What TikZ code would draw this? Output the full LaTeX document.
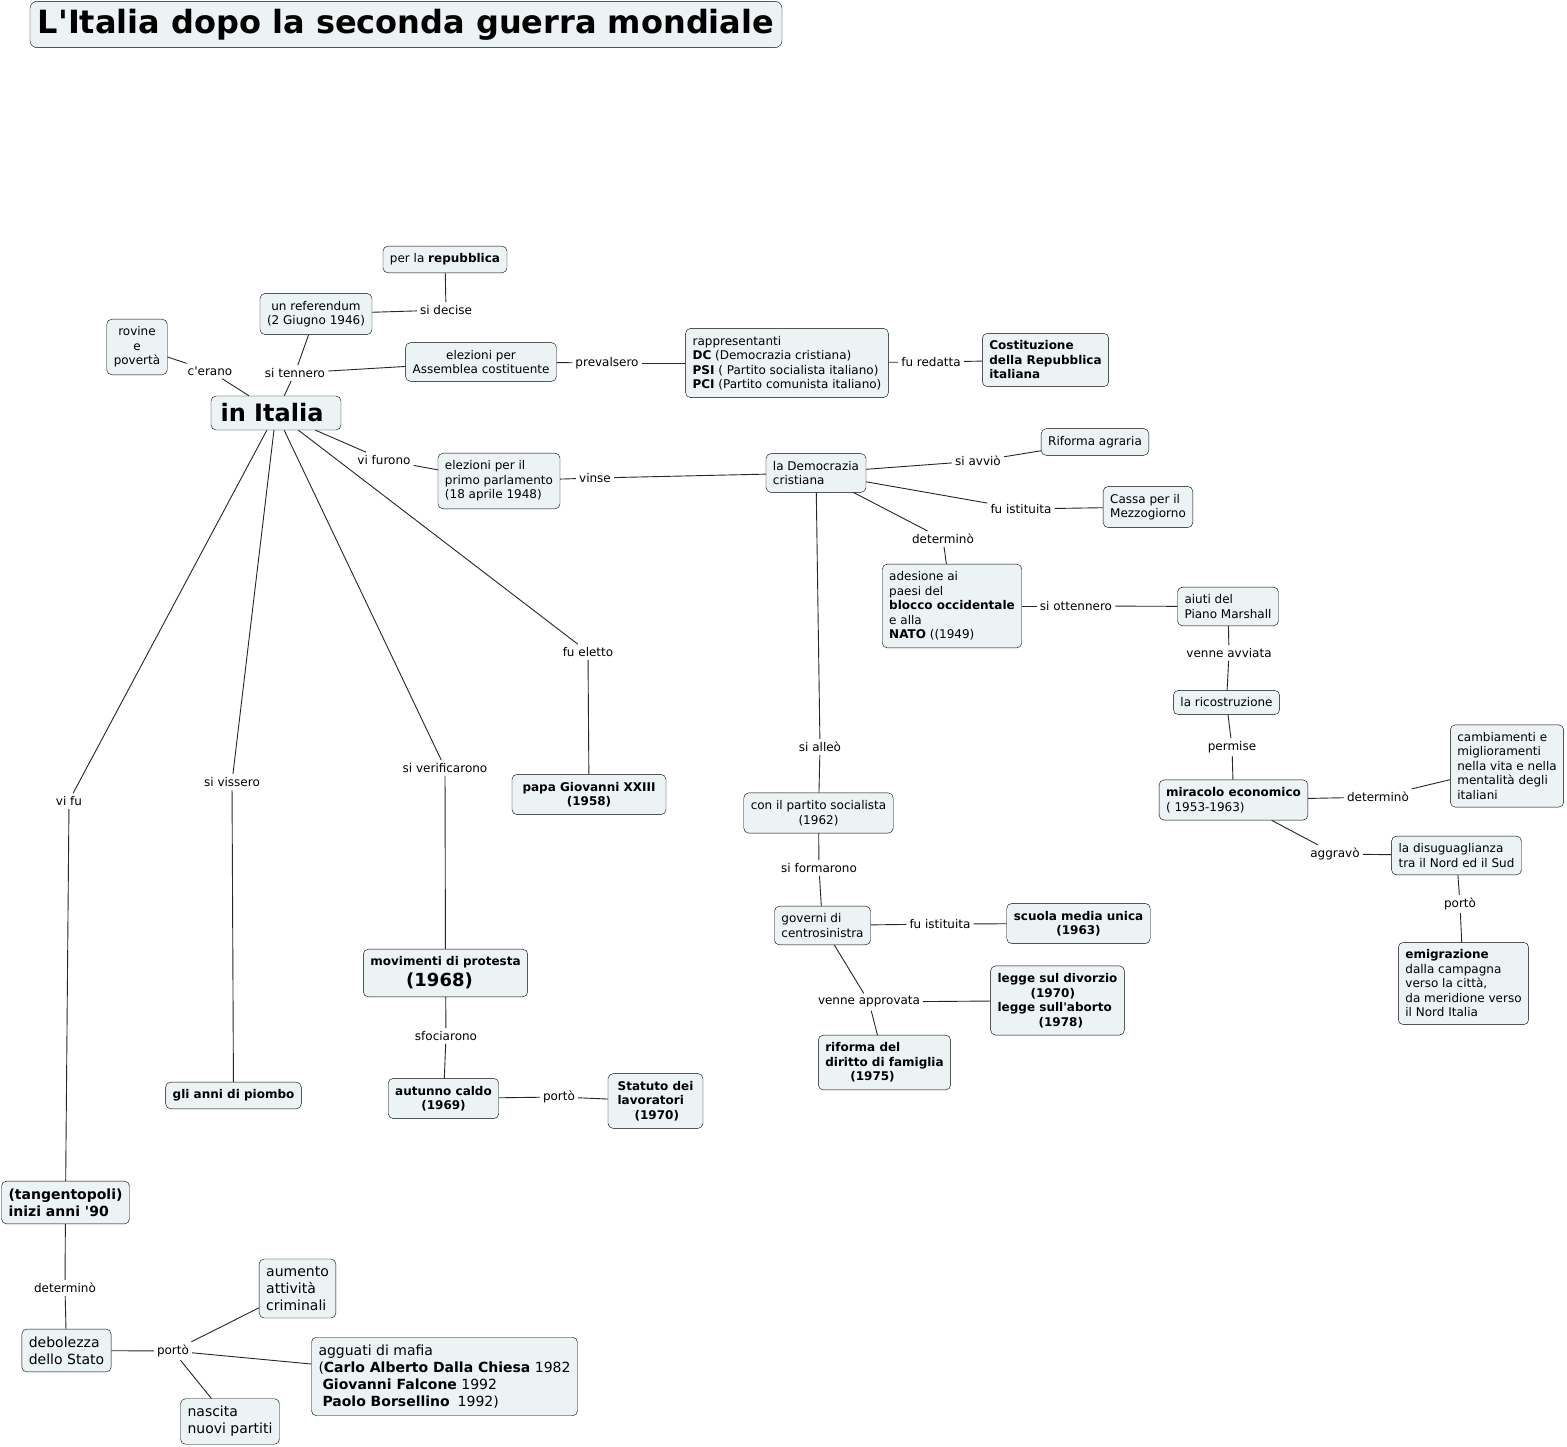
\documentclass[tikz,border=0pt]{standalone}
\usepackage{fontspec}
\setmainfont{DejaVu Sans}[Ligatures=TeXOff]
\usepackage{xcolor}
\usepackage{tikz}

\definecolor{cmapfill}{RGB}{236,243,245}

\begin{document}
\begin{tikzpicture}[
    x=1pt, y=-1pt,
    concept/.style={
        rectangle,
        rounded corners=5pt,
        draw,
        fill=cmapfill,
        align=left,
        inner xsep=7pt,
        inner ysep=7.5pt,
        font=\fontsize{12}{14.5}\selectfont
    },
    boldconcept/.style={concept, font=\fontsize{12}{14.5}\selectfont\bfseries},
    bigconcept/.style={concept, font=\fontsize{14}{17}\selectfont},
    titlebox/.style={concept, rounded corners=7pt, minimum width=752pt, minimum height=45pt,
        font=\fontsize{32}{36}\selectfont\bfseries},
    linkword/.style={inner sep=3pt, font=\fontsize{12}{14.5}\selectfont},
    link/.style={draw=black!85, line width=0.9pt}
]

\useasboundingbox[fill=white] (0,0) rectangle (1567,1447);

\node[titlebox] (title) at (406,24.5) {L'Italia dopo la seconda guerra mondiale};

% concepts
\node[concept, font=\fontsize{24}{28}\selectfont\bfseries, minimum width=130pt, minimum height=34pt] (italia) at (276,413) {in Italia\hspace*{8pt}};
\node[concept, align=center] (repubblica) at (445,259.5) {per la \textbf{repubblica}};
\node[concept, align=center] (referendum) at (316,314) {un referendum\\(2 Giugno 1946)};
\node[concept, align=center] (rovine) at (137,347) {rovine\\e\\povertà};
\node[concept, align=center] (assemblea) at (481,362) {elezioni per\\Assemblea costituente};
\node[concept] (rappresentanti) at (787,363) {rappresentanti\\\textbf{DC} (Democrazia cristiana)\\\textbf{PSI} ( Partito socialista italiano)\\\textbf{PCI} (Partito comunista italiano)};
\node[boldconcept] (costituzione) at (1045.5,360) {Costituzione\\della Repubblica\\italiana};
\node[concept] (parlamento) at (499,481) {elezioni per il\\primo parlamento\\(18 aprile 1948)};
\node[concept] (dc) at (816,473) {la Democrazia\\cristiana};
\node[concept] (agraria) at (1095,442) {Riforma agraria};
\node[concept] (cassa) at (1148,507) {Cassa per il\\Mezzogiorno};
\node[concept] (adesione) at (952,606) {adesione ai\\paesi del\\\textbf{blocco occidentale}\\e alla\\\textbf{NATO} ((1949)};
\node[concept] (marshall) at (1228,606.5) {aiuti del\\Piano Marshall};
\node[concept] (ricostruzione) at (1226.5,702.5) {la ricostruzione};
\node[concept] (cambiamenti) at (1507,766) {cambiamenti e\\miglioramenti\\nella vita e nella\\mentalità degli\\italiani};
\node[concept] (miracolo) at (1233.5,800) {\textbf{miracolo economico}\\( 1953-1963)};
\node[concept] (disuguaglianza) at (1456.5,855.5) {la disuguaglianza\\tra il Nord ed il Sud};
\node[concept] (emigrazione) at (1463.5,983.5) {\textbf{emigrazione}\\dalla campagna\\verso la città,\\da meridione verso\\il Nord Italia};
\node[concept, align=center] (socialista) at (818.5,813) {con il partito socialista\\(1962)};
\node[concept] (governi) at (822.5,925.5) {governi di\\centrosinistra};
\node[boldconcept, align=center] (scuola) at (1078.5,923.5) {scuola media unica\\(1963)};
\node[boldconcept] (divorzio) at (1057.5,1000.5) {legge sul divorzio\\\hspace*{33pt}(1970)\\legge sull'aborto\\\hspace*{41pt}(1978)};
\node[boldconcept] (famiglia) at (884.5,1062.5) {riforma del\\diritto di famiglia\\\hspace*{25pt}(1975)};
\node[boldconcept, align=center, minimum width=154pt] (papa) at (589,794.5) {papa Giovanni XXIII\\(1958)};
\node[boldconcept, align=center] (movimenti) at (445.5,973) {movimenti di protesta\\[4pt]{\fontsize{18}{22}\selectfont(1968)\hspace*{12pt}}};
\node[boldconcept, align=center] (autunno) at (443.5,1098.5) {autunno caldo\\(1969)};
\node[boldconcept, minimum width=95pt] (statuto) at (655.5,1101) {Statuto dei\\lavoratori\\\hspace*{17pt}(1970)};
\node[boldconcept] (piombo) at (233.5,1095.5) {gli anni di piombo};
\node[bigconcept, font=\fontsize{14}{17}\selectfont\bfseries] (tangentopoli) at (65.5,1202.5) {(tangentopoli)\\inizi anni '90};
\node[bigconcept] (debolezza) at (66.5,1350.5) {debolezza\\dello Stato};
\node[bigconcept] (criminali) at (297.5,1288.5) {aumento\\attività\\criminali};
\node[bigconcept] (mafia) at (444.5,1376.5) {agguati di mafia\\(\textbf{Carlo Alberto Dalla Chiesa} 1982\\\hspace*{4pt}\textbf{Giovanni Falcone} 1992\\\hspace*{4pt}\textbf{Paolo Borsellino}\hspace*{8pt}1992)};
\node[bigconcept] (partiti) at (230,1421.5) {nascita\\nuovi partiti};

% linking words
\node[linkword] (decise) at (446,310) {si decise};
\node[linkword] (erano) at (210,371) {c'erano};
\node[linkword] (tennero) at (295,373) {si tennero};
\node[linkword] (prevalsero) at (607,363) {prevalsero};
\node[linkword] (redatta) at (931,362) {fu redatta};
\node[linkword] (furono) at (384,460) {vi furono};
\node[linkword] (vinse) at (595,478) {vinse};
\node[linkword] (avvio) at (978,461) {si avviò};
\node[linkword] (istituita) at (1021,509) {fu istituita};
\node[linkword] (determino) at (943,539) {determinò};
\node[linkword] (ottennero) at (1076,606) {si ottennero};
\node[linkword] (avviata) at (1229,653) {venne avviata};
\node[linkword] (permise) at (1232,747) {permise};
\node[linkword] (determinob) at (1378,797) {determinò};
\node[linkword] (aggravo) at (1335,854) {aggravò};
\node[linkword] (porto) at (1460,904) {portò};
\node[linkword] (eletto) at (588,652) {fu eletto};
\node[linkword] (verificarono) at (445,768) {si verificarono};
\node[linkword] (vissero) at (232,782) {si vissero};
\node[linkword] (vifu) at (69,801) {vi fu};
\node[linkword] (alleo) at (820,747) {si alleò};
\node[linkword] (formarono) at (819,868) {si formarono};
\node[linkword] (istituitab) at (940,924) {fu istituita};
\node[linkword] (approvata) at (869,1002) {venne approvata};
\node[linkword] (sfociarono) at (446,1036) {sfociarono};
\node[linkword] (portob) at (559,1097) {portò};
\node[linkword] (determinoc) at (65,1288) {determinò};
\node[linkword] (portoc) at (173,1351) {portò};

% connections
\draw[link] (repubblica) -- (decise);
\draw[link] (decise) -- (referendum);
\draw[link] (referendum) -- (tennero);
\draw[link] (tennero) -- (italia);
\draw[link] (tennero) -- (assemblea);
\draw[link] (italia) -- (erano);
\draw[link] (erano) -- (rovine);
\draw[link] (assemblea) -- (prevalsero);
\draw[link] (prevalsero) -- (rappresentanti);
\draw[link] (rappresentanti) -- (redatta);
\draw[link] (redatta) -- (costituzione);
\draw[link] (italia) -- (furono);
\draw[link] (furono) -- (parlamento);
\draw[link] (parlamento) -- (vinse);
\draw[link] (vinse) -- (dc);
\draw[link] (dc) -- (avvio);
\draw[link] (avvio) -- (agraria);
\draw[link] (dc) -- (istituita);
\draw[link] (istituita) -- (cassa);
\draw[link] (dc) -- (determino);
\draw[link] (determino) -- (adesione);
\draw[link] (adesione) -- (ottennero);
\draw[link] (ottennero) -- (marshall);
\draw[link] (marshall) -- (avviata);
\draw[link] (avviata) -- (ricostruzione);
\draw[link] (ricostruzione) -- (permise);
\draw[link] (permise) -- (miracolo);
\draw[link] (miracolo) -- (determinob);
\draw[link] (determinob) -- (cambiamenti);
\draw[link] (miracolo) -- (aggravo);
\draw[link] (aggravo) -- (disuguaglianza);
\draw[link] (disuguaglianza) -- (porto);
\draw[link] (porto) -- (emigrazione);
\draw[link] (dc) -- (alleo);
\draw[link] (alleo) -- (socialista);
\draw[link] (socialista) -- (formarono);
\draw[link] (formarono) -- (governi);
\draw[link] (governi) -- (istituitab);
\draw[link] (istituitab) -- (scuola);
\draw[link] (governi) -- (approvata);
\draw[link] (approvata) -- (divorzio);
\draw[link] (approvata) -- (famiglia);
\draw[link] (italia) -- (eletto);
\draw[link] (eletto) -- (papa);
\draw[link] (italia) -- (verificarono);
\draw[link] (verificarono) -- (movimenti);
\draw[link] (movimenti) -- (sfociarono);
\draw[link] (sfociarono) -- (autunno);
\draw[link] (autunno) -- (portob);
\draw[link] (portob) -- (statuto);
\draw[link] (italia) -- (vissero);
\draw[link] (vissero) -- (piombo);
\draw[link] (italia) -- (vifu);
\draw[link] (vifu) -- (tangentopoli);
\draw[link] (tangentopoli) -- (determinoc);
\draw[link] (determinoc) -- (debolezza);
\draw[link] (debolezza) -- (portoc);
\draw[link] (portoc) -- (criminali);
\draw[link] (portoc) -- (mafia);
\draw[link] (portoc) -- (partiti);

\end{tikzpicture}
\end{document}
